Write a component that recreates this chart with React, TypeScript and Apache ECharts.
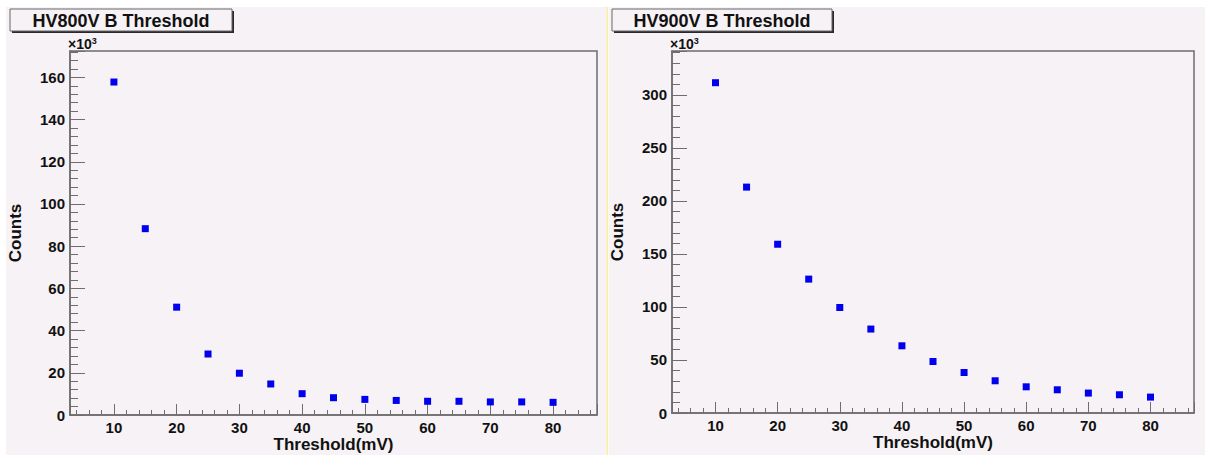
import React, { useEffect, useRef } from "react";
import * as echarts from "echarts";

const thresholds = [10, 15, 20, 25, 30, 35, 40, 45, 50, 55, 60, 65, 70, 75, 80];
const countsHV800 = [157800, 88300, 51100, 28900, 19800, 14700, 10100, 8200, 7400, 6900, 6500, 6500, 6200, 6200, 6000];
const countsHV900 = [311600, 213100, 159200, 126300, 99500, 79200, 63400, 48600, 38200, 30400, 24700, 21900, 18800, 17200, 15000];
const titles = ["HV800V B Threshold", "HV900V B Threshold"];
const xTitle = "Threshold(mV)";
const yTitle = "Counts";
const yMax = [172500, 341500];
const yInterval = [20000, 50000];

const FONT = '"Liberation Sans", Arial, Helvetica, sans-serif';
const PANEL_BG = "#f6f2f5";
const AXIS = "#6e6e6e";

export default function App() {
  const ref = useRef<HTMLDivElement>(null);
  useEffect(() => {
    if (!ref.current) return;
    const chart = echarts.init(ref.current, undefined, { renderer: "svg" });

    const grids = [
      { left: 70, top: 51, width: 527, height: 364 },
      { left: 672, top: 51, width: 522, height: 362 },
    ];

    const xAxes = grids.map((_, i) => ({
      gridIndex: i,
      type: "value",
      min: 3,
      max: 87,
      splitNumber: 8,
      axisLine: { show: true, onZero: false, lineStyle: { color: AXIS, width: 1.5 } },
      axisTick: { show: true, inside: true, length: 11, lineStyle: { color: AXIS, width: 1 } },
      minorTick: { show: true, splitNumber: 5, length: 5, lineStyle: { color: AXIS, width: 1 } },
      splitLine: { show: false },
      axisLabel: {
        showMinLabel: false,
        showMaxLabel: false,
        fontSize: 15,
        lineHeight: 15,
        fontWeight: "bold",
        color: "#111",
        fontFamily: FONT,
        margin: 5,
      },
      name: xTitle,
      nameLocation: "middle",
      nameGap: 21,
      nameMoveOverlap: false,
      nameTextStyle: { fontSize: 17, lineHeight: 17, fontWeight: "bold", color: "#111", fontFamily: FONT },
    }));

    const yAxes = grids.map((_, i) => ({
      gridIndex: i,
      type: "value",
      min: 0,
      max: yMax[i],
      interval: yInterval[i],
      axisLine: { show: true, onZero: false, lineStyle: { color: AXIS, width: 1.5 } },
      axisTick: { show: true, inside: true, length: 15, lineStyle: { color: AXIS, width: 1 } },
      minorTick: { show: true, splitNumber: 5, length: 8, lineStyle: { color: AXIS, width: 1 } },
      splitLine: { show: false },
      axisLabel: {
        showMaxLabel: false,
        fontSize: 15,
        fontWeight: "bold",
        color: "#111",
        fontFamily: FONT,
        margin: 5,
        formatter: (v: number) => String(Math.round(v / 1000)),
      },
      name: yTitle,
      nameLocation: "middle",
      nameGap: 46,
      nameTextStyle: { fontSize: 17, lineHeight: 17, fontWeight: "bold", color: "#111", fontFamily: FONT },
    }));

    const seriesData = [countsHV800, countsHV900];
    const series = seriesData.map((vals, i) => ({
      type: "scatter",
      xAxisIndex: i,
      yAxisIndex: i,
      symbol: "rect",
      symbolSize: 7,
      itemStyle: { color: "#0000ee", opacity: 1 },
      data: thresholds.map((t, j) => [t, vals[j]]),
    }));

    const titleBoxes = [
      { x: 10, y: 9, w: 222, h: 22 },
      { x: 612, y: 9, w: 220, h: 22 },
    ];

    const graphic: any[] = [
      { type: "rect", z: -10, silent: true, shape: { x: 6, y: 7, width: 601, height: 448 }, style: { fill: PANEL_BG } },
      { type: "rect", z: -10, silent: true, shape: { x: 609, y: 7, width: 596, height: 448 }, style: { fill: PANEL_BG } },
      { type: "line", z: -9, silent: true, shape: { x1: 607.5, y1: 7, x2: 607.5, y2: 455 }, style: { stroke: "#fbf09a", lineWidth: 1.5 } },
    ];
    titleBoxes.forEach((b, i) => {
      graphic.push({ type: "rect", silent: true, shape: { x: b.x + 2, y: b.y + 2, width: b.w, height: b.h }, style: { fill: "#2a2a2a" } });
      graphic.push({ type: "rect", silent: true, shape: { x: b.x, y: b.y, width: b.w, height: b.h }, style: { fill: PANEL_BG, stroke: "#666", lineWidth: 1 } });
      graphic.push({
        type: "text",
        silent: true,
        x: b.x + b.w / 2,
        y: b.y + b.h / 2 + 1,
        style: { text: titles[i], fill: "#111", font: `bold 18px ${FONT}`, textAlign: "center", textVerticalAlign: "middle" },
      });
      graphic.push({
        type: "text",
        silent: true,
        x: grids[i].left - 2,
        y: 36,
        style: {
          text: "{a|×10}{b|3}",
          rich: {
            a: { fontSize: 14, fontWeight: "bold", fill: "#111", fontFamily: FONT, verticalAlign: "bottom", lineHeight: 15 },
            b: { fontSize: 9, fontWeight: "bold", fill: "#111", fontFamily: FONT, verticalAlign: "top", lineHeight: 15, padding: [0, 0, 7, 0] },
          },
        },
      });
    });

    chart.setOption({
      animation: false,
      backgroundColor: "#ffffff",
      grid: grids.map((g) => ({
        ...g,
        containLabel: false,
        outerBoundsMode: "none",
        show: true,
        borderColor: AXIS,
        borderWidth: 1.5,
        backgroundColor: "transparent",
      })),
      xAxis: xAxes,
      yAxis: yAxes,
      series,
      graphic,
    });
    return () => chart.dispose();
  }, []);

  return <div ref={ref} style={{ position: "fixed", left: 0, top: 0, width: 1205, height: 455 }} />;
}
